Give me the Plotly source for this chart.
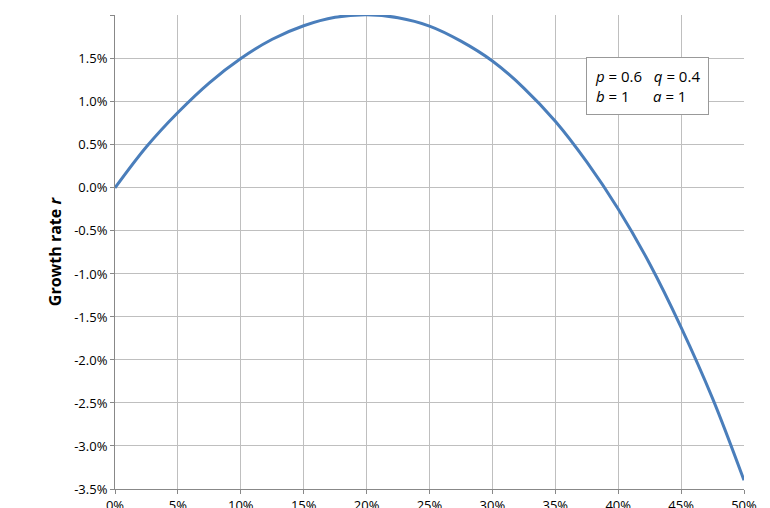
import plotly.graph_objects as go

bet_fraction = [0, 0.025, 0.05, 0.075, 0.1, 0.125, 0.15, 0.175, 0.2, 0.225, 0.25, 0.275, 0.3, 0.325, 0.35, 0.375, 0.4, 0.425, 0.45, 0.475, 0.5]
growth_rate = [0.0, 0.00478, 0.00876, 0.01222, 0.01504, 0.01728, 0.01885, 0.01983, 0.02014, 0.01978, 0.01881, 0.01706, 0.01475, 0.01161, 0.00775, 0.00302, -0.00245, -0.00881, -0.01620, -0.02446, -0.03398]
opt_f = [0.2]
opt_r = [0.02014]
y_ticks = [-0.035, -0.03, -0.025, -0.02, -0.015, -0.01, -0.005, 0.0, 0.005, 0.01, 0.015, 0.02]
y_labels = ["-3.5%", "-3.0%", "-2.5%", "-2.0%", "-1.5%", "-1.0%", "-0.5%", "0.0%", "0.5%", "1.0%", "1.5%", "2.0%"]

fig = go.Figure()
fig.add_trace(go.Scatter(x=bet_fraction, y=growth_rate, mode="lines", line=dict(color="#4a7ebb", width=3, shape="spline"), cliponaxis=False))
fig.add_trace(go.Scatter(x=opt_f, y=opt_r, mode="markers", marker=dict(symbol="diamond", color="black", size=12), cliponaxis=False))

fig.add_annotation(x=opt_f[0], y=opt_r[0], ax=440, ay=129, axref="pixel", ayref="pixel",
                   text='Optimum<br>"Kelly" bet', showarrow=True, arrowhead=0, arrowcolor="#999", arrowwidth=1,
                   bordercolor="#999", borderwidth=1, borderpad=8, bgcolor="white",
                   font=dict(family="Open Sans", size=14, color="black"))
fig.add_annotation(xref="paper", yref="paper", x=0.847, y=0.85, xanchor="center", yanchor="middle",
                   text="<i>p</i> = 0.6   <i>q</i> = 0.4<br><i>b</i> = 1      <i>a</i> = 1",
                   showarrow=False, align="left", bordercolor="#999", borderwidth=1, borderpad=8, bgcolor="white",
                   font=dict(family="Open Sans", size=15, color="black"))

fig.update_xaxes(range=[0, 0.5], dtick=0.05, tickformat=".0%", showgrid=True, gridcolor="#bfbfbf",
                 showline=True, linecolor="#888", zeroline=False, ticks="outside", ticklen=4, tickcolor="#888", automargin=False)
fig.update_yaxes(range=[-0.035, 0.0201], tickvals=y_ticks, ticktext=y_labels, showgrid=True, gridcolor="#bfbfbf",
                 showline=True, linecolor="#888", zeroline=False, ticks="outside", ticklen=4, tickcolor="#888",
                 title=dict(text="<b>Growth rate <i>r</i></b>", standoff=8), automargin=False)
fig.update_layout(width=770, height=508, margin=dict(l=107, r=34, t=7, b=27),
                  plot_bgcolor="white", paper_bgcolor="white", showlegend=False,
                  font=dict(family="Open Sans", size=13, color="black"))
fig.write_html("out.html")
